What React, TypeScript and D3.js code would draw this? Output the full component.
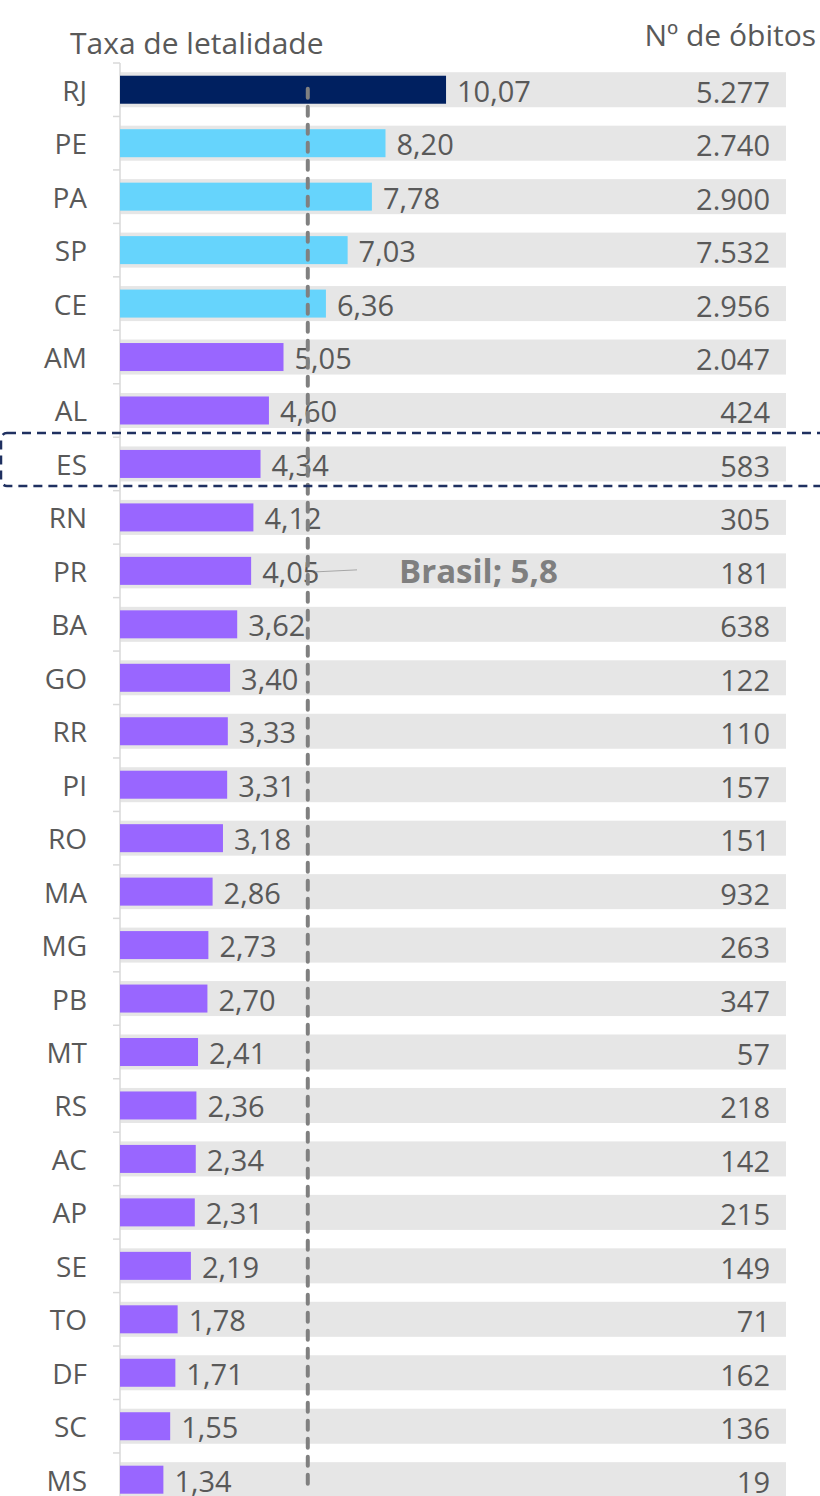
import { useEffect, useRef } from 'react';
import * as d3 from 'd3';

const states = ['RJ', 'PE', 'PA', 'SP', 'CE', 'AM', 'AL', 'ES', 'RN', 'PR', 'BA', 'GO', 'RR', 'PI', 'RO', 'MA', 'MG', 'PB', 'MT', 'RS', 'AC', 'AP', 'SE', 'TO', 'DF', 'SC', 'MS'];
const letalidade = [10.07, 8.20, 7.78, 7.03, 6.36, 5.05, 4.60, 4.34, 4.12, 4.05, 3.62, 3.40, 3.33, 3.31, 3.18, 2.86, 2.73, 2.70, 2.41, 2.36, 2.34, 2.31, 2.19, 1.78, 1.71, 1.55, 1.34];
const obitos = [5277, 2740, 2900, 7532, 2956, 2047, 424, 583, 305, 181, 638, 122, 110, 157, 151, 932, 263, 347, 57, 218, 142, 215, 149, 71, 162, 136, 19];
const brasil = 5.8;
const highlight = 'ES';

const W = 820;
const H = 1496;
const FONT = '"Open Sans", "Noto Sans", sans-serif';

export default function App() {
  const svgRef = useRef<SVGSVGElement>(null);

  useEffect(() => {
    if (!svgRef.current) return;
    const svg = d3.select(svgRef.current);
    svg.selectAll('*').remove();

    const x = d3.scaleLinear().domain([0, 20.57]).range([120, 786]);
    const step = 53.46;
    const top = 63;
    const y = d3.scaleBand<string>()
      .domain(states)
      .range([top, top + step * states.length])
      .paddingInner(0.345)
      .paddingOuter(0.1725);

    const rows = states.map((s, i) => ({ s, v: letalidade[i], n: obitos[i], i }));
    const color = (i: number) => (i === 0 ? '#002060' : i <= 4 ? '#66d4fc' : '#9966ff');
    const fmt = d3.format('.2f');
    const fmtN = (n: number) => d3.format(',')(n).replace(/,/g, '.');
    const cy = (s: string) => y(s)! + y.bandwidth() / 2;

    // background bands
    svg.append('g').selectAll('rect')
      .data(rows).enter().append('rect')
      .attr('x', x(0))
      .attr('y', d => y(d.s)!)
      .attr('width', x.range()[1] - x(0))
      .attr('height', y.bandwidth())
      .attr('fill', '#e6e6e6');

    // axis line + ticks
    const ax = svg.append('g').attr('stroke', '#d9d9d9').attr('stroke-width', 1.5);
    ax.append('line').attr('x1', x(0)).attr('x2', x(0)).attr('y1', top).attr('y2', H);
    ax.selectAll('.tk').data(d3.range(states.length + 1)).enter().append('line')
      .attr('x1', x(0) - 7).attr('x2', x(0))
      .attr('y1', i => top + i * step).attr('y2', i => top + i * step);

    // bars
    const bh = 28;
    svg.append('g').selectAll('rect')
      .data(rows).enter().append('rect')
      .attr('x', x(0))
      .attr('y', d => cy(d.s) - bh / 2)
      .attr('width', d => x(d.v) - x(0))
      .attr('height', bh)
      .attr('fill', d => color(d.i));

    // state labels
    svg.append('g').selectAll('text')
      .data(rows).enter().append('text')
      .attr('x', 87)
      .attr('y', d => cy(d.s) + 11)
      .attr('text-anchor', 'end')
      .attr('font-size', 28)
      .attr('fill', '#595959')
      .text(d => d.s);

    // value labels
    svg.append('g').selectAll('text')
      .data(rows).enter().append('text')
      .attr('x', d => x(d.v) + 11)
      .attr('y', d => cy(d.s) + 12)
      .attr('font-size', 29)
      .attr('fill', '#595959')
      .text(d => fmt(d.v).replace('.', ','));

    // obitos
    svg.append('g').selectAll('text')
      .data(rows).enter().append('text')
      .attr('x', 770)
      .attr('y', d => cy(d.s) + 13)
      .attr('text-anchor', 'end')
      .attr('font-size', 29)
      .attr('fill', '#595959')
      .text(d => fmtN(d.n));

    // Brasil line
    svg.append('line')
      .attr('x1', x(brasil)).attr('x2', x(brasil))
      .attr('y1', cy('RJ') - 1)
      .attr('y2', H - 12)
      .attr('stroke', '#808080')
      .attr('stroke-width', 4)
      .attr('stroke-linecap', 'round')
      .attr('stroke-dasharray', '9,9');

    const prY = cy('PR');
    svg.append('line')
      .attr('x1', x(brasil) + 8).attr('x2', 357)
      .attr('y1', prY + 1).attr('y2', prY - 1)
      .attr('stroke', '#a6a6a6').attr('stroke-width', 1);
    svg.append('text')
      .attr('x', 399).attr('y', prY + 12)
      .attr('font-size', 33).attr('font-weight', 'bold')
      .attr('fill', '#7f7f7f')
      .text('Brasil; 5,8');

    // highlight ES
    const hy = cy(highlight);
    svg.append('rect')
      .attr('x', 1).attr('y', hy - 31)
      .attr('width', W + 20).attr('height', 53)
      .attr('rx', 6)
      .attr('fill', 'none')
      .attr('stroke', '#1f3060')
      .attr('stroke-width', 2.5)
      .attr('stroke-dasharray', '9,6');

    // headers
    svg.append('text')
      .attr('x', 70).attr('y', 54)
      .attr('font-size', 30).attr('fill', '#595959')
      .text('Taxa de letalidade');
    svg.append('text')
      .attr('x', 816).attr('y', 46)
      .attr('text-anchor', 'end')
      .attr('font-size', 30).attr('fill', '#595959')
      .text('Nº de óbitos');
  }, []);

  return (
    <svg ref={svgRef} width={W} height={H}
      style={{ position: 'absolute', left: 0, top: 0, fontFamily: FONT, background: '#fff' }} />
  );
}
